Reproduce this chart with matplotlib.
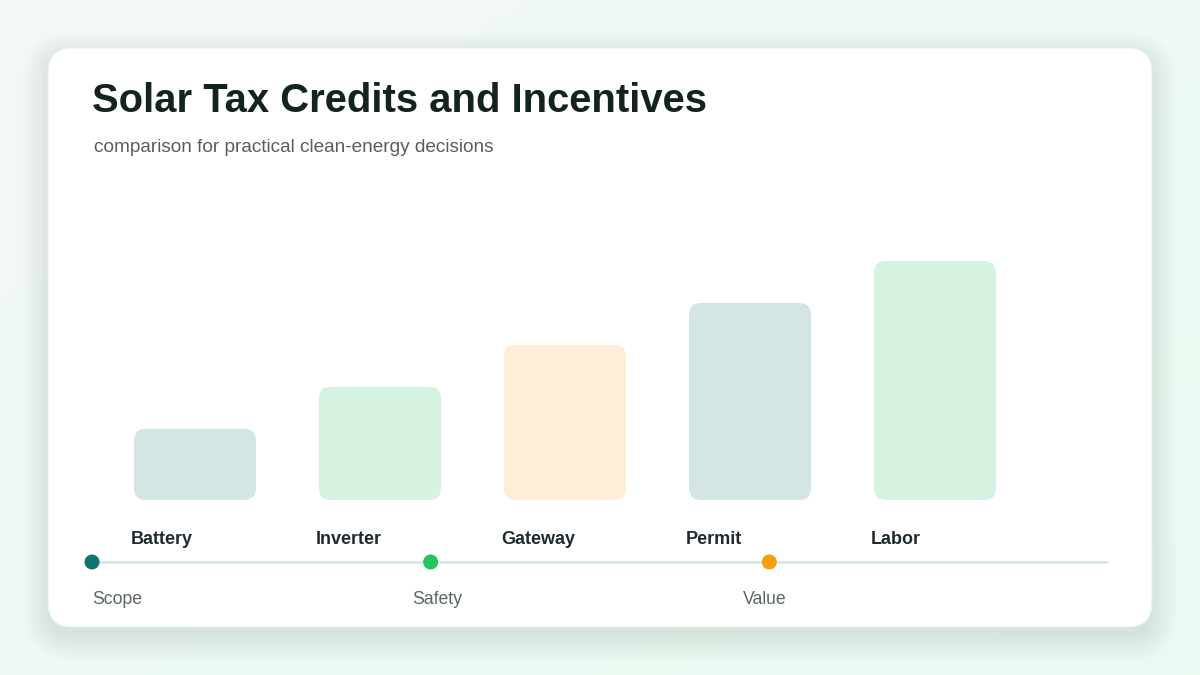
import numpy as np
import matplotlib
matplotlib.use("Agg")
import matplotlib.pyplot as plt
from matplotlib.patches import FancyBboxPatch, Circle
from matplotlib.transforms import blended_transform_factory

plt.rcParams['font.family'] = ['Liberation Sans', 'DejaVu Sans']

# Chart data
title = "Solar Tax Credits and Incentives"
subtitle = "comparison for practical clean-energy decisions"
categories = ["Battery", "Inverter", "Gateway", "Permit", "Labor"]
values = [17, 27, 37, 47, 57]
bar_colors = ["#d4e6e4", "#d6f3e1", "#feeed7", "#d4e6e4", "#d6f3e1"]
milestones = ["Scope", "Safety", "Value"]
milestone_pos = [0.0, 1 / 3, 2 / 3]
milestone_colors = ["#0f766e", "#22c55e", "#f59e0b"]
milestone_label_dx = [0, -18, -26]

W, H = 1200, 675
fig = plt.figure(figsize=(12, 6.75), dpi=100)

# background layer in pixel coords
bg = fig.add_axes([0, 0, 1, 1])
bg.set_xlim(0, W)
bg.set_ylim(H, 0)
bg.axis("off")

gx, gy = np.meshgrid(np.linspace(0, 1, 200), np.linspace(0, 1, 120))
t = (gx + gy) / 2
c0 = np.array([0xf3, 0xf8, 0xf6]) / 255
c1 = np.array([0xea, 0xfb, 0xf2]) / 255
grad = c0[None, None, :] * (1 - t[..., None]) + c1[None, None, :] * t[..., None]
bg.imshow(grad, extent=[0, W, H, 0], aspect="auto", zorder=0)

# soft card shadow
for i in range(22):
    pad = 1.2 * i
    bg.add_patch(FancyBboxPatch((48 - pad, 57 - pad), 1104 + 2 * pad, 579 + 2 * pad,
                                boxstyle=f"round,pad=0,rounding_size={24 + pad}",
                                facecolor="#3d6b60", edgecolor="none",
                                alpha=0.0055, zorder=1))

# card
bg.add_patch(FancyBboxPatch((48, 48), 1104, 579, boxstyle="round,pad=0,rounding_size=24",
                            facecolor="white", edgecolor="#e6eeeb", lw=0.8, zorder=2))

bg.text(92, 101, title, fontsize=28.8, fontweight="bold", color="#13231e",
        ha="left", va="center", zorder=5)
bg.text(94, 148, subtitle, fontsize=13.7, color="#55605d",
        ha="left", va="center", zorder=5)

# timeline
x0, x1, ty = 92, 1108, 562
bg.plot([x0, x1], [ty, ty], color="#d6e4e1", lw=1.8, zorder=3, solid_capstyle="butt")
for name, p, c, dx in zip(milestones, milestone_pos, milestone_colors, milestone_label_dx):
    cx = x0 + (x1 - x0) * p
    bg.add_patch(Circle((cx, ty), 7.5, facecolor=c, edgecolor="none", zorder=4))
    bg.text(cx + dx, 599, name, fontsize=12.7, color="#5b6663",
            ha="left", va="center", zorder=5)

# bars
ax = fig.add_axes([102.5 / W, (H - 500) / H, 925 / W, 239 / H])
ax.set_xlim(-0.5, len(categories) - 0.5)
ax.set_ylim(0, max(values))
ax.axis("off")
ax.patch.set_alpha(0)

bw = 122 / 185
px_x = 185.0
px_y = 239.0 / max(values)
r = 12 / px_x
for i, (v, c) in enumerate(zip(values, bar_colors)):
    ax.add_patch(FancyBboxPatch((i - bw / 2, 0), bw, v,
                                boxstyle=f"round,pad=0,rounding_size={r}",
                                mutation_aspect=px_x / px_y,
                                facecolor=c, edgecolor="none", zorder=3))

trans = blended_transform_factory(ax.transData, bg.transData)
for i, name in enumerate(categories):
    ax.text(i - bw / 2 - 3 / px_x, 540, name, transform=trans, fontsize=13,
            fontweight="bold", color="#1f2a30", ha="left", va="center", zorder=5)

fig.savefig("out.png", dpi=100)
